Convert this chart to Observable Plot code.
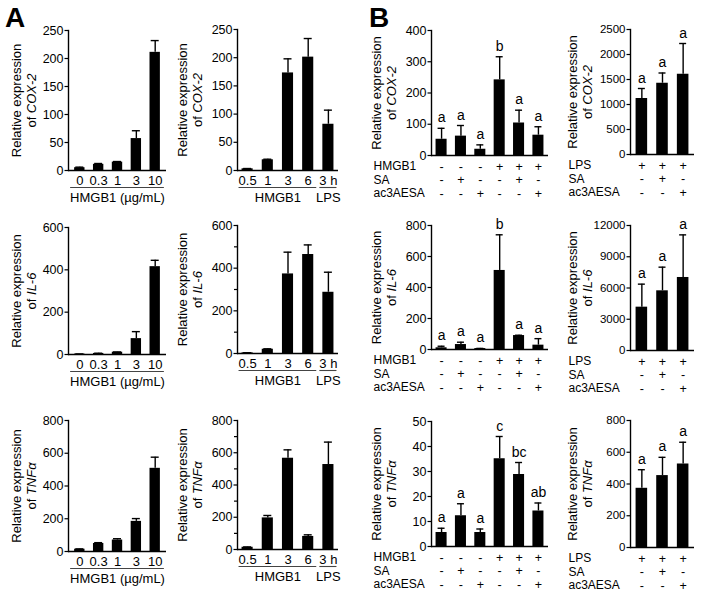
<!DOCTYPE html>
<html>
<head>
<meta charset="utf-8">
<script src="https://cdn.jsdelivr.net/npm/d3@7"></script>
<script src="https://cdn.jsdelivr.net/npm/@observablehq/plot@0.6"></script>
<style>
  html, body { margin: 0; padding: 0; background: #fff; }
  #fig { position: relative; width: 706px; height: 597px; overflow: hidden;
         font-family: "Liberation Sans", Arial, Helvetica, sans-serif; color: #000; }
  .panel { position: absolute; }
  .tag { position: absolute; font-weight: bold; font-size: 28px; line-height: 1; }
</style>
</head>
<body>
<div id="fig"></div>
<script>
const FONT = "'Liberation Sans', Arial, Helvetica, sans-serif";

// ---------------- Data ----------------
// Panel A, left column: HMGB1 dose (µg/mL)
const doseLabels = ["0", "0.3", "1", "3", "10"];
const doseGroups = ["HMGB1 (µg/mL)", "HMGB1 (µg/mL)", "HMGB1 (µg/mL)", "HMGB1 (µg/mL)", "HMGB1 (µg/mL)"];
const doseCOX2 = [5, 11, 15, 57, 211];
const doseCOX2Sem = [1, 1.5, 1, 14, 21];
const doseIL6 = [2, 5, 11, 75, 415];
const doseIL6Sem = [0.5, 1, 1, 33, 30];
const doseTNFa = [14, 49, 70, 184, 508];
const doseTNFaSem = [2, 5, 8, 17, 68];

// Panel A, right column: time course
const timeLabels = ["0.5", "1", "3", "6", "3 h"];
const timeGroups = ["HMGB1", "HMGB1", "HMGB1", "HMGB1", "LPS"];
const timeCOX2 = [3, 19, 173, 201, 82];
const timeCOX2Sem = [0.5, 1, 25, 33, 25];
const timeIL6 = [3, 20, 373, 464, 287];
const timeIL6Sem = [0.5, 2, 102, 45, 94];
const timeTNFa = [14, 196, 566, 81, 527];
const timeTNFaSem = [2, 15, 52, 10, 139];

// Panel B, left column: HMGB1 ± SA / ac3AESA
const hmgbRowNames = ["HMGB1", "SA", "ac3AESA"];
const hmgbHMGB1 = ["-", "-", "-", "+", "+", "+"];
const hmgbSA = ["-", "+", "-", "-", "+", "-"];
const hmgbAc3 = ["-", "-", "+", "-", "-", "+"];
const hmgbCOX2 = [52, 62, 20, 242, 104, 65];
const hmgbCOX2Sem = [35, 34, 14, 74, 41, 27];
const hmgbCOX2Sig = ["a", "a", "a", "b", "a", "a"];
const hmgbIL6 = [11, 32, 6, 510, 90, 28];
const hmgbIL6Sem = [10, 15, 1, 230, 2, 42];
const hmgbIL6Sig = ["a", "a", "a", "b", "a", "a"];
const hmgbTNFa = [5.6, 12.3, 5.6, 35.1, 28.8, 14.2];
const hmgbTNFaSem = [1.7, 4.8, 1.4, 8.9, 4.8, 3.2];
const hmgbTNFaSig = ["a", "a", "a", "c", "bc", "ab"];

// Panel B, right column: LPS ± SA / ac3AESA
const lpsRowNames = ["LPS", "SA", "ac3AESA"];
const lpsLPS = ["+", "+", "+"];
const lpsSA = ["-", "+", "-"];
const lpsAc3 = ["-", "-", "+"];
const lpsCOX2 = [1120, 1425, 1605];
const lpsCOX2Sem = [200, 205, 615];
const lpsCOX2Sig = ["a", "a", "a"];
const lpsIL6 = [4160, 5730, 7010];
const lpsIL6Sem = [2210, 2270, 4090];
const lpsIL6Sig = ["a", "a", "a"];
const lpsTNFa = [373, 453, 526];
const lpsTNFaSem = [117, 115, 137];
const lpsTNFaSig = ["a", "a", "a"];

// Tick values
const ticksA_COX2 = [0, 50, 100, 150, 200, 250];
const ticksA_IL6 = [0, 200, 400, 600];
const minorA_IL6 = [100, 300, 500];
const ticksA_TNFa = [0, 200, 400, 600, 800];
const minorA_TNFa = [100, 300, 500, 700];
const ticksB1_COX2 = [0, 100, 200, 300, 400];
const ticksB1_IL6 = [0, 200, 400, 600, 800];
const ticksB1_TNFa = [0, 10, 20, 30, 40, 50];
const ticksB2_COX2 = [0, 500, 1000, 1500, 2000, 2500];
const ticksB2_IL6 = [0, 3000, 6000, 9000, 12000];
const ticksB2_TNFa = [0, 200, 400, 600, 800];

// ---------------- Layout ----------------
const colA1 = {left: 0, width: 175, ml: 68, mr: 9, pi: 0.45, po: 0.325, labelDx: -45, cap: 8, tickFont: 12.5};
const colA2 = {left: 175, width: 170, ml: 62, mr: 7, pi: 0.45, po: 0.225, labelDx: -48, cap: 8, tickFont: 12.5};
const colB1 = {left: 345, width: 205, ml: 86, mr: 2, pi: 0.43, po: 0.235, labelDx: -48, rowDx: -58, cap: 7, tickFont: 12.5};
const colB2 = {left: 545, width: 161, ml: 85, mr: 12, pi: 0.44, po: 0.27, labelDx: -51, rowDx: -62, cap: 7, tickFont: 11.5};
const rowDy = [11, 24.5, 38];

const hmgbRows = [hmgbHMGB1, hmgbSA, hmgbAc3].map((s, i) => ({name: hmgbRowNames[i], signs: s}));
const lpsRows = [lpsLPS, lpsSA, lpsAc3].map((s, i) => ({name: lpsRowNames[i], signs: s}));

const panels = [
  {...colA1, top: 0, height: 200, mt: 30, mb: 30, gene: "COX-2", values: doseCOX2, sem: doseCOX2Sem, ticks: ticksA_COX2, labels: doseLabels, groups: doseGroups, ulExt: 4},
  {...colA2, top: 0, height: 200, mt: 29, mb: 30, gene: "COX-2", values: timeCOX2, sem: timeCOX2Sem, ticks: ticksA_COX2, labels: timeLabels, groups: timeGroups, ulExt: 3},
  {...colB1, top: 0, height: 200, mt: 30, mb: 45, gene: "COX-2", values: hmgbCOX2, sem: hmgbCOX2Sem, sig: hmgbCOX2Sig, ticks: ticksB1_COX2, rows: hmgbRows},
  {...colB2, top: 0, height: 200, mt: 29, mb: 46, gene: "COX-2", values: lpsCOX2, sem: lpsCOX2Sem, sig: lpsCOX2Sig, ticks: ticksB2_COX2, rows: lpsRows},

  {...colA1, top: 200, height: 200, mt: 27, mb: 46, gene: "IL-6", values: doseIL6, sem: doseIL6Sem, ticks: ticksA_IL6, labels: doseLabels, groups: doseGroups, ulExt: 4},
  {...colA2, top: 200, height: 200, mt: 25, mb: 47, gene: "IL-6", values: timeIL6, sem: timeIL6Sem, ticks: ticksA_IL6, minor: minorA_IL6, labels: timeLabels, groups: timeGroups, ulExt: 3},
  {...colB1, top: 200, height: 200, mt: 25, mb: 51, gene: "IL-6", values: hmgbIL6, sem: hmgbIL6Sem, sig: hmgbIL6Sig, ticks: ticksB1_IL6, rows: hmgbRows},
  {...colB2, top: 200, height: 200, mt: 25, mb: 50, gene: "IL-6", values: lpsIL6, sem: lpsIL6Sem, sig: lpsIL6Sig, ticks: ticksB2_IL6, rows: lpsRows},

  {...colA1, top: 400, height: 197, mt: 20, mb: 46, gene: "TNFα", values: doseTNFa, sem: doseTNFaSem, ticks: ticksA_TNFa, labels: doseLabels, groups: doseGroups, ulExt: 4},
  {...colA2, top: 400, height: 197, mt: 20, mb: 48, gene: "TNFα", values: timeTNFa, sem: timeTNFaSem, ticks: ticksA_TNFa, minor: minorA_TNFa, labels: timeLabels, groups: timeGroups, ulExt: 3},
  {...colB1, top: 400, height: 197, mt: 21, mb: 51, gene: "TNFα", values: hmgbTNFa, sem: hmgbTNFaSem, sig: hmgbTNFaSig, ticks: ticksB1_TNFa, rows: hmgbRows},
  {...colB2, top: 400, height: 197, mt: 20, mb: 50, gene: "TNFα", values: lpsTNFa, sem: lpsTNFaSem, sig: lpsTNFaSig, ticks: ticksB2_TNFa, rows: lpsRows}
];

function buildPanel(p) {
  const n = p.values.length;
  const keys = p.values.map((_, i) => `c${i}`);
  const data = p.values.map((v, i) => ({
    key: keys[i], mean: v, top: v + p.sem[i],
    label: p.labels ? p.labels[i] : "",
    sig: p.sig ? p.sig[i] : ""
  }));
  const fw = p.width - p.ml - p.mr;
  const step = fw / (n - p.pi + 2 * p.po);
  const bw = step * (1 - p.pi);
  const capInset = Math.max(0, (bw - p.cap) / 2);
  const marks = [
    Plot.barY(data, {x: "key", y: "mean", fill: "#000"}),
    Plot.ruleX(data, {x: "key", y1: "mean", y2: "top", stroke: "#000", strokeWidth: 1.4}),
    Plot.tickY(data, {x: "key", y: "top", stroke: "#000", strokeWidth: 1.4, inset: capInset}),
    Plot.ruleY([0], {stroke: "#000", strokeWidth: 1.4}),
    Plot.frame({anchor: "left", stroke: "#000", strokeWidth: 1.4}),
    Plot.axisY({ticks: p.ticks, tickSize: 3.5, tickPadding: 1.5, fontSize: p.tickFont, label: null, strokeWidth: 1.2, tickFormat: (d) => String(d)}),
    Plot.text([`Relative expression\nof ${p.gene}`], {frameAnchor: "left", textAnchor: "middle", rotate: -90, dx: p.labelDx, fontSize: 13, lineHeight: 1.2, lineAnchor: "middle"})
  ];
  if (p.minor) marks.push(Plot.axisY({ticks: p.minor, tickSize: 3, tickFormat: () => "", strokeWidth: 1.2, label: null}));
  if (p.labels) {
    marks.push(Plot.text(data, {x: "key", text: "label", frameAnchor: "bottom", dy: 10, fontSize: 13, lineAnchor: "middle"}));
    const groups = [];
    p.groups.forEach((g, i) => {
      const last = groups[groups.length - 1];
      if (last && last.name === g) { last.last = keys[i]; last.count++; }
      else groups.push({name: g, first: keys[i], last: keys[i], count: 1});
    });
    marks.push(Plot.ruleY(groups, {x1: "first", x2: "last", y: () => 0, dy: 17, insetLeft: -p.ulExt, insetRight: -p.ulExt, stroke: "#444", strokeWidth: 1.1}));
    for (const g of groups) {
      marks.push(Plot.text([g], {x: "first", text: "name", frameAnchor: "bottom", dx: (g.count - 1) * step / 2, dy: 27, fontSize: 13, lineAnchor: "middle"}));
    }
  }
  if (p.rows) {
    p.rows.forEach((r, j) => {
      marks.push(Plot.text(data.map((d, i) => ({key: d.key, s: r.signs[i]})), {x: "key", text: "s", frameAnchor: "bottom", dy: rowDy[j], fontSize: 12.5, lineAnchor: "middle"}));
      marks.push(Plot.text([r.name], {frameAnchor: "bottom-left", textAnchor: "start", dx: p.rowDx, dy: rowDy[j], fontSize: 12, lineAnchor: "middle"}));
    });
    marks.push(Plot.text(data, {x: "key", y: "top", text: "sig", dy: -6, lineAnchor: "bottom", fontSize: 14}));
  }
  const svg = Plot.plot({
    width: p.width, height: p.height,
    marginTop: p.mt, marginBottom: p.mb, marginLeft: p.ml, marginRight: p.mr,
    style: {fontFamily: FONT, color: "#000", overflow: "visible", background: "transparent"},
    x: {type: "band", domain: keys, paddingInner: p.pi, paddingOuter: p.po, round: false, axis: null},
    y: {domain: [0, p.ticks[p.ticks.length - 1]]},
    marks
  });
  // italicise the gene name in the y label
  d3.select(svg).selectAll("tspan, text").each(function () {
    if (this.childElementCount === 0 && this.textContent === `of ${p.gene}`) {
      const t = d3.select(this);
      t.text("");
      t.append("tspan").text("of ");
      t.append("tspan").attr("font-style", "italic").text(p.gene);
    }
  });
  return svg;
}

const fig = document.getElementById("fig");
for (const p of panels) {
  const div = document.createElement("div");
  div.className = "panel";
  div.style.left = p.left + "px";
  div.style.top = p.top + "px";
  div.style.width = p.width + "px";
  div.style.height = p.height + "px";
  div.appendChild(buildPanel(p));
  fig.appendChild(div);
}
for (const [txt, x] of [["A", 5], ["B", 369]]) {
  const d = document.createElement("div");
  d.className = "tag";
  d.textContent = txt;
  d.style.left = x + "px";
  d.style.top = "4px";
  fig.appendChild(d);
}
</script>
</body>
</html>
